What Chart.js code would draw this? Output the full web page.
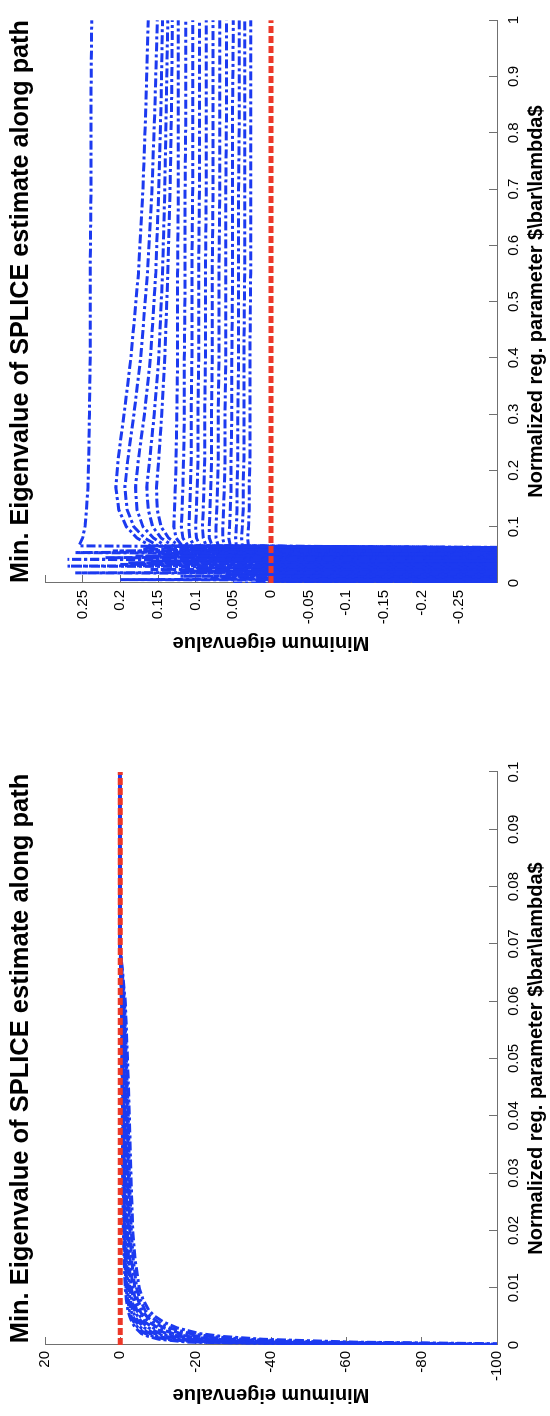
<!DOCTYPE html>
<html>
<head>
<meta charset="utf-8">
<script src="https://cdn.jsdelivr.net/npm/chart.js@4.4.1/dist/chart.umd.min.js"></script>
<style>
  body { margin: 0; background: #fff; }
  .frame { position: absolute; left: 0; width: 550px; overflow: hidden; }
  .frame canvas { position: absolute; left: 0; top: 0; transform-origin: 0 0; }
</style>
</head>
<body>
<div class="frame" style="top:0; height:700px;">
  <canvas id="chartTop" width="700" height="550" style="width:700px;height:550px;transform:translate(0,700px) rotate(-90deg);"></canvas>
</div>
<div class="frame" style="top:700px; height:716px;">
  <canvas id="chartBottom" width="716" height="550" style="width:716px;height:550px;transform:translate(0,716px) rotate(-90deg);"></canvas>
</div>
<script>
// ---- full path, lambda 0..1 (two sample grids along the path) ----
const topLambdaA = [0, 0.006, 0.012, 0.018, 0.024, 0.03, 0.036, 0.042, 0.048, 0.054, 0.06,
                    0.066, 0.08, 0.1, 0.13, 0.17, 0.22, 0.3, 0.4, 0.55, 0.7, 0.85, 1];
const topLambdaB = [0.003, 0.009, 0.015, 0.021, 0.027, 0.033, 0.039, 0.045, 0.051, 0.057, 0.0625,
                    0.066, 0.08, 0.1, 0.13, 0.17, 0.22, 0.3, 0.4, 0.55, 0.7, 0.85, 1];

const topCurve1  = [-2.5, 0.2, -1.6, 0.26, -1.2, 0.27, -0.9, 0.27, -0.7, 0.26, -0.5,
                    0.255, 0.25, 0.247, 0.245, 0.243, 0.242, 0.241, 0.24, 0.24, 0.239, 0.239, 0.238];
const topCurve2  = [-2.2, 0.08, -1.4, 0.12, -1.1, 0.2, -0.8, 0.22, -0.6, 0.21, -0.45,
                    0.16, 0.178, 0.192, 0.202, 0.206, 0.203, 0.195, 0.186, 0.176, 0.17, 0.166, 0.163];
const topCurve3  = [0.05, -1.5, 0.12, -1.0, 0.16, -0.75, 0.19, -0.55, 0.18, -0.42, 0.17,
                    0.15, 0.168, 0.182, 0.191, 0.194, 0.19, 0.182, 0.173, 0.164, 0.158, 0.154, 0.151];
const topCurve4  = [0.02, -1.3, 0.06, -0.95, 0.1, -0.7, 0.16, -0.5, 0.15, -0.4, 0.14,
                    0.14, 0.156, 0.17, 0.178, 0.18, 0.176, 0.168, 0.16, 0.153, 0.149, 0.146, 0.144];
const topCurve5  = [-1.8, 0.02, -1.2, -0.05, -0.9, 0.04, -0.65, 0.12, -0.5, 0.13, -0.38,
                    0.13, 0.146, 0.157, 0.163, 0.165, 0.161, 0.155, 0.149, 0.144, 0.141, 0.139, 0.137];
const topCurve6  = [-1.7, -0.1, -1.25, 0.03, -0.85, -0.01, -0.6, 0.08, -0.45, 0.1, -0.36,
                    0.122, 0.136, 0.146, 0.151, 0.152, 0.149, 0.145, 0.141, 0.137, 0.134, 0.132, 0.131];
const topCurve7  = [-0.02, -1.1, -0.12, -0.8, 0.01, -0.6, -0.1, -0.44, 0.06, -0.35, 0.1,
                    0.118, 0.126, 0.129, 0.128, 0.127, 0.126, 0.125, 0.124, 0.124, 0.123, 0.123, 0.123];
const topCurve8  = [-0.06, -1.05, 0.01, -0.78, -0.1, -0.55, 0.04, -0.42, 0.07, -0.34, 0.1,
                    0.11, 0.117, 0.119, 0.118, 0.117, 0.116, 0.115, 0.115, 0.114, 0.114, 0.113, 0.113];
const topCurve9  = [-1.45, -0.15, -1.0, 0.01, -0.75, -0.12, -0.55, -0.03, -0.4, 0.05, -0.33,
                    0.102, 0.108, 0.109, 0.108, 0.107, 0.106, 0.106, 0.105, 0.105, 0.104, 0.104, 0.104];
const topCurve10 = [-1.4, 0.0, -0.98, -0.16, -0.72, 0.02, -0.52, -0.08, -0.4, 0.03, -0.32,
                    0.094, 0.099, 0.1, 0.099, 0.098, 0.097, 0.097, 0.096, 0.096, 0.095, 0.095, 0.095];
const topCurve11 = [-0.1, -0.95, 0.0, -0.7, -0.2, -0.5, 0.02, -0.38, -0.1, -0.32, 0.05,
                    0.086, 0.09, 0.091, 0.09, 0.089, 0.088, 0.088, 0.087, 0.087, 0.086, 0.086, 0.086];
const topCurve12 = [0.0, -0.92, -0.12, -0.68, 0.02, -0.5, -0.16, -0.37, -0.04, -0.31, 0.06,
                    0.078, 0.082, 0.082, 0.081, 0.08, 0.079, 0.079, 0.078, 0.078, 0.077, 0.077, 0.077];
const topCurve13 = [-1.25, -0.06, -0.9, -0.2, -0.66, 0.0, -0.48, -0.18, -0.36, -0.06, -0.31,
                    0.07, 0.073, 0.073, 0.072, 0.071, 0.07, 0.07, 0.069, 0.069, 0.068, 0.068, 0.068];
const topCurve14 = [-1.2, -0.2, -0.88, -0.04, -0.64, -0.14, -0.47, 0.01, -0.35, -0.1, -0.3,
                    0.062, 0.064, 0.064, 0.063, 0.062, 0.061, 0.061, 0.06, 0.06, 0.06, 0.059, 0.059];
const topCurve15 = [-0.2, -0.86, -0.05, -0.62, -0.14, -0.46, -0.25, -0.34, 0.0, -0.3, 0.03,
                    0.054, 0.056, 0.055, 0.054, 0.053, 0.053, 0.052, 0.052, 0.051, 0.051, 0.051, 0.05];
const topCurve16 = [-0.15, -0.84, -0.02, -0.6, -0.22, -0.45, 0.0, -0.34, -0.18, -0.3, 0.04,
                    0.046, 0.047, 0.046, 0.045, 0.045, 0.044, 0.044, 0.043, 0.043, 0.043, 0.042, 0.042];
const topCurve17 = [-1.05, -0.24, -0.82, -0.1, -0.58, -0.22, -0.44, 0.02, -0.33, -0.2, -0.3,
                    0.038, 0.039, 0.038, 0.037, 0.037, 0.036, 0.036, 0.036, 0.035, 0.035, 0.035, 0.035];
const topCurve18 = [-1.0, -0.03, -0.8, -0.25, -0.56, -0.08, -0.43, -0.2, -0.33, -0.02, -0.3,
                    0.03, 0.031, 0.03, 0.029, 0.029, 0.028, 0.028, 0.028, 0.027, 0.027, 0.027, 0.027];

const topCurvesA = [topCurve1, topCurve3, topCurve5, topCurve7, topCurve9,
                    topCurve11, topCurve13, topCurve15, topCurve17];
const topCurvesB = [topCurve2, topCurve4, topCurve6, topCurve8, topCurve10,
                    topCurve12, topCurve14, topCurve16, topCurve18];

// ---- zoom on small lambda, 0..0.1 ----
const bottomLambda = [0, 0.0005, 0.001, 0.0015, 0.002, 0.003, 0.004, 0.005, 0.006, 0.008, 0.01,
                      0.015, 0.02, 0.03, 0.04, 0.05, 0.06, 0.07, 0.08, 0.09, 0.1];

const bottomCurve1  = [-130, -62, -38, -27, -21, -15, -11.5, -9.2, -7.6, -6.0, -5.0, -3.9, -3.3, -2.8, -2.4, -1.9, -1.3, 0.1, 0.12, 0.12, 0.13];
const bottomCurve2  = [-120, -55, -33, -24, -18.5, -13, -10, -8, -6.6, -5.2, -4.3, -3.4, -2.9, -2.4, -2.1, -1.6, -1.1, 0.12, 0.14, 0.15, 0.15];
const bottomCurve3  = [-112, -48, -29, -21, -16, -11.5, -8.8, -7, -5.8, -4.6, -3.8, -3.0, -2.5, -2.1, -1.8, -1.4, -0.9, 0.14, 0.16, 0.17, 0.17];
const bottomCurve4  = [-105, -42, -25, -18, -14, -10, -7.6, -6.1, -5.1, -4.0, -3.3, -2.6, -2.2, -1.8, -1.5, -1.2, -0.8, 0.16, 0.18, 0.19, 0.19];
const bottomCurve5  = [-98, -37, -22, -16, -12.2, -8.7, -6.6, -5.3, -4.4, -3.5, -2.9, -2.2, -1.9, -1.5, -1.3, -1.0, -0.6, 0.18, 0.2, 0.2, 0.2];
const bottomCurve6  = [-92, -32, -19, -13.8, -10.5, -7.5, -5.7, -4.6, -3.8, -3.0, -2.5, -1.9, -1.6, -1.3, -1.1, -0.8, -0.5, 0.05, 0.08, 0.09, 0.1];
const bottomCurve7  = [-86, -28, -16.5, -12, -9, -6.4, -4.9, -3.9, -3.3, -2.6, -2.1, -1.6, -1.3, -1.1, -0.9, -0.7, -0.4, 0.06, 0.09, 0.1, 0.11];
const bottomCurve8  = [-80, -24, -14, -10.2, -7.7, -5.5, -4.2, -3.4, -2.8, -2.2, -1.8, -1.4, -1.1, -0.9, -0.75, -0.55, -0.35, 0.04, 0.07, 0.08, 0.09];
const bottomCurve9  = [-74, -21, -12, -8.7, -6.6, -4.7, -3.6, -2.9, -2.4, -1.9, -1.5, -1.2, -0.95, -0.75, -0.6, -0.45, -0.3, 0.03, 0.05, 0.06, 0.07];
const bottomCurve10 = [-68, -18, -10.3, -7.4, -5.6, -4.0, -3.1, -2.5, -2.0, -1.6, -1.3, -1.0, -0.8, -0.6, -0.5, -0.38, -0.25, 0.02, 0.04, 0.05, 0.06];

const bottomCurves = [bottomCurve1, bottomCurve2, bottomCurve3, bottomCurve4, bottomCurve5,
                      bottomCurve6, bottomCurve7, bottomCurve8, bottomCurve9, bottomCurve10];

// zero reference (red dashed)
const zeroTopLambda = [0, 1];
const zeroBottomLambda = [0, 0.1];
const zeroValue = [0, 0];

const titleText = 'Min. Eigenvalue of SPLICE estimate along path';
const xTitleText = 'Normalized reg. parameter $\\bar\\lambda$';
const yTitleText = 'Minimum eigenvalue';

const BLUE = 'rgb(28, 58, 240)';
const RED = 'rgb(236, 56, 40)';
const AXIS = '#707070';

Chart.defaults.font.family = 'Arial, "Liberation Sans", Helvetica, sans-serif';
Chart.defaults.color = '#000';

function toPoints(xs, ys) {
    return xs.map((x, i) => ({x: x, y: ys[i]}));
}

function chart(idChart, cfg) {
    const datasets = [{
        data: toPoints(cfg.zeroLambda, zeroValue),
        borderColor: RED,
        borderWidth: 5,
        borderDash: [7, 3],
        pointRadius: 0,
    }];
    cfg.series.forEach(s => {
        s.curves.forEach(values => {
            datasets.push({
                data: toPoints(s.lambda, values),
                borderColor: BLUE,
                borderWidth: 3,
                borderDash: [9, 3, 3, 3],
                pointRadius: 0,
            });
        });
    });

    const options = {
        responsive: false,
        animation: false,
        events: [],
        layout: {padding: {left: 0, right: cfg.padRight, top: 0, bottom: 0}},
        plugins: {
            legend: {display: false},
            tooltip: {enabled: false},
            title: {
                display: true,
                text: titleText,
                fullSize: false,
                font: {size: 25.5, weight: 'bold'},
                padding: {top: 6, bottom: 8.4},
            },
        },
        scales: {
            x: {
                type: 'linear',
                min: 0,
                max: cfg.xMax,
                border: {display: true, color: AXIS, width: 1},
                grid: {drawOnChartArea: false, drawTicks: true, tickLength: -8, color: AXIS},
                ticks: {
                    stepSize: cfg.xStep,
                    autoSkip: false,
                    maxRotation: 0,
                    padding: 16,
                    font: {size: 15},
                    callback: v => String(Number(v.toFixed(3))),
                },
                title: {
                    display: true,
                    text: xTitleText,
                    font: {size: 20, weight: 'bold'},
                    padding: {top: 0, bottom: 2},
                },
                afterFit: s => { s.height = 53; },
            },
            y: {
                min: cfg.yMin,
                max: cfg.yMax,
                border: {display: true, color: AXIS, width: 1},
                grid: {drawOnChartArea: false, drawTicks: true, tickLength: -8, color: AXIS},
                ticks: {
                    stepSize: cfg.yStep,
                    autoSkip: false,
                    padding: cfg.yTickPad,
                    font: {size: 15},
                    callback: v => cfg.yHide.includes(Number(v.toFixed(3))) ? '' : String(Number(v.toFixed(3))),
                },
                title: {
                    display: true,
                    text: yTitleText,
                    font: {size: 20, weight: 'bold'},
                    padding: {top: cfg.yTitleTop, bottom: 0},
                },
                afterFit: s => { s.width = cfg.yWidth; },
            },
        },
    };

    const element = document.getElementById(idChart);
    return new Chart(element, {type: 'line', data: {datasets}, options});
}

window.addEventListener('load', () => {
    chart('chartTop', {
        series: [{lambda: topLambdaA, curves: topCurvesA}, {lambda: topLambdaB, curves: topCurvesB}],
        zeroLambda: zeroTopLambda,
        xMax: 1, xStep: 0.1, yMin: -0.3, yMax: 0.3, yStep: 0.05, yHide: [0.3, -0.3],
        yWidth: 117, padRight: 15, yTitleTop: 45, yTickPad: 15,
    });
    chart('chartBottom', {
        series: [{lambda: bottomLambda, curves: bottomCurves}],
        zeroLambda: zeroBottomLambda,
        xMax: 0.1, xStep: 0.01, yMin: -100, yMax: 20, yStep: 20, yHide: [],
        yWidth: 71, padRight: 72, yTitleTop: 9, yTickPad: 14,
    });
});
</script>
</body>
</html>
